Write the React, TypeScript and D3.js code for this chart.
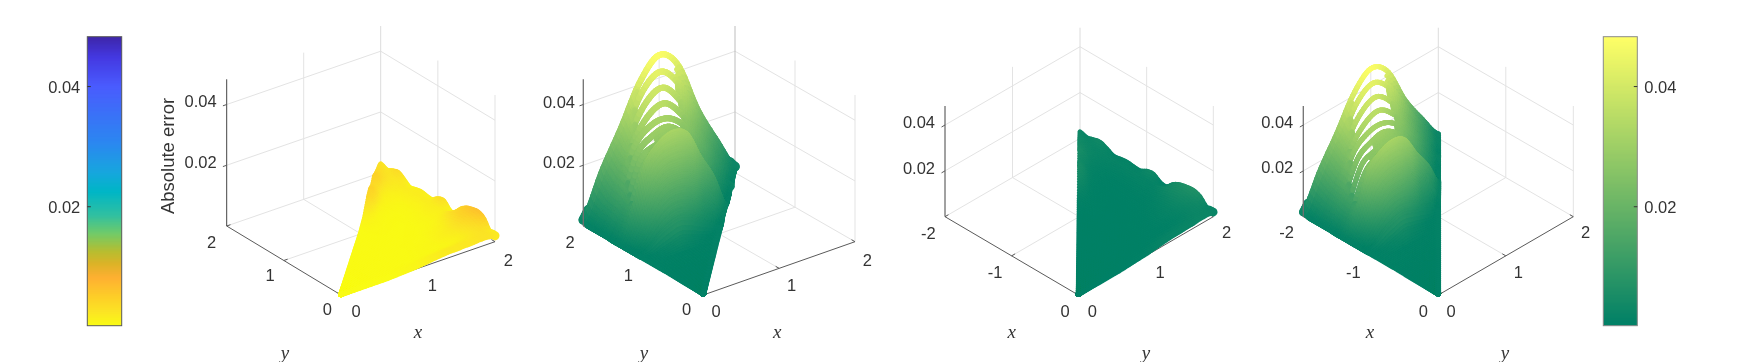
import React from "react";
import * as d3 from "d3";

const W = 1743, H = 362;
const zTicks = [0.02, 0.04];
const zMax = 0.0483, zMin = 0.0002;
const summerStops = ["#008066", "#ffff66"];
const parulaValues = [0.0002, 0.0025, 0.0048, 0.0082, 0.0105, 0.0125, 0.0155, 0.0185, 0.0225, 0.0258, 0.0305, 0.04, 0.045, 0.0483];
const parulaColors = ["#f9fb15", "#fbe425", "#fdd028", "#feb032", "#dcb328", "#b8bd30", "#72cb68", "#32c0a0", "#00b6c6", "#18a6de", "#2b88f0", "#4a5cfe", "#4438e0", "#3e26a8"];

// error along the far edge and interior of the strong method: rows at radial fraction
const ridgeRowS = [1, 0.96, 0.92, 0.88, 0.84, 0.8, 0.76, 0.72, 0.68, 0.64, 0.6, 0.56, 0.52, 0.48, 0.4, 0.3, 0.15, 0];
const ridgeZ = [
  [0.002, 0.016, 0.028, 0.041, 0.0475, 0.042, 0.0255, 0.013, 0.002],
  [0.001, 0.014, 0.027, 0.039, 0.0433, 0.037, 0.024, 0.012, 0.002],
  [0.001, 0.013, 0.026, 0.036, 0.0393, 0.033, 0.022, 0.011, 0.002],
  [0.001, 0.012, 0.025, 0.033, 0.0354, 0.03, 0.021, 0.0105, 0.001],
  [0.001, 0.012, 0.026, 0.031, 0.0317, 0.028, 0.02, 0.0095, 0.002],
  [0.001, 0.012, 0.025, 0.029, 0.0302, 0.026, 0.018, 0.0085, 0.001],
  [0.0008, 0.011, 0.024, 0.027, 0.028, 0.025, 0.016, 0.007, 0.001],
  [0.0008, 0.011, 0.023, 0.026, 0.027, 0.024, 0.016, 0.007, 0.001],
  [0.0008, 0.012, 0.025, 0.03, 0.032, 0.03, 0.021, 0.013, 0.002],
  [0.0008, 0.009, 0.02, 0.025, 0.026, 0.025, 0.017, 0.01, 0.002],
  [0.0008, 0.006, 0.014, 0.019, 0.02, 0.019, 0.012, 0.008, 0.002],
  [0.0008, 0.004, 0.009, 0.013, 0.014, 0.013, 0.008, 0.005, 0.001],
  [0.0008, 0.002, 0.005, 0.007, 0.008, 0.007, 0.005, 0.003, 0.001],
  [0.0008, 0.001, 0.002, 0.003, 0.004, 0.003, 0.002, 0.001, 0.001],
  [0.0008, 0.001, 0.001, 0.001, 0.001, 0.001, 0.001, 0.001, 0.001],
  [0.0008, 0.0008, 0.0008, 0.0008, 0.0008, 0.0008, 0.0008, 0.0008, 0.0008],
  [0.0006, 0.0006, 0.0006, 0.0006, 0.0006, 0.0006, 0.0006, 0.0006, 0.0006],
  [0.0005, 0.0005, 0.0005, 0.0005, 0.0005, 0.0005, 0.0005, 0.0005, 0.0005],
];
// white gaps between adjacent ridge rows, as [start, end] fractions along a row
const ridgeGaps = [[0.35, 0.62], [0.32, 0.61], [0.3, 0.63], [0.255, 0.645], [0.217, 0.64], [0.17, 0.4], [0.15, 0.33], [0.14, 0.27]];

// error of the weak method: scalloped far edge
const scallopRowS = [1, 0.95, 0.9, 0.85, 0.8, 0.75, 0.7, 0.6, 0.5, 0.3, 0];
const scallopZ = [
  [0.0028, 0.002, 0.0028, 0.0034, 0.0022, 0.0008, 0.0012, 0.0016, 0.0013, 0.0012, 0.0027, 0.0031, 0.0012, 0.001, 0.0038, 0.0053, 0.006, 0.0063, 0.0052, 0.0022, 0.002],
  [0.0032, 0.0024, 0.002, 0.0016, 0.0016, 0.0016, 0.0016, 0.0036, 0.0046, 0.0032, 0.0025],
  [0.0038, 0.0024, 0.0014, 0.0012, 0.001, 0.0012, 0.0012, 0.0022, 0.003, 0.0022, 0.0025],
  [0.0048, 0.0018, 0.001, 0.0007, 0.0007, 0.0008, 0.0008, 0.0014, 0.0019, 0.0015, 0.0022],
  [0.0038, 0.0014, 0.0008, 0.0005, 0.0005, 0.0006, 0.0006, 0.001, 0.0014, 0.001, 0.0022],
  [0.0046, 0.0014, 0.0006, 0.0004, 0.0004, 0.0004, 0.0005, 0.0008, 0.001, 0.0008, 0.002],
  [0.004, 0.0012, 0.0005, 0.0004, 0.0003, 0.0004, 0.0004, 0.0005, 0.0007, 0.0007, 0.002],
  [0.0012, 0.0008, 0.0005, 0.0004, 0.0003, 0.0003, 0.0004, 0.0004, 0.0005, 0.0006, 0.0015],
  [0.0003, 0.0003, 0.0003, 0.0003, 0.0003, 0.0003, 0.0003, 0.0003, 0.0003, 0.0004, 0.0008],
  [0.0003, 0.0003, 0.0003, 0.0003, 0.0003, 0.0003, 0.0003, 0.0003, 0.0003, 0.0003, 0.0002],
  [0.0002, 0.0002, 0.0002, 0.0002, 0.0002, 0.0002, 0.0002, 0.0002, 0.0002, 0.0002, 0.0002],
];

type Pt = [number, number];
const PANELS = [
  { O: [341, 295], Xc: [495, 241.7], Yc: [226.7, 226], zTop: 146.7, xFar: 2, zAt: "y", backC: "#dcdcdc",
    A: [2, 2], B: [2, 0], table: "scallop", cmap: "parula", rw: 5.5, sw: 5.5, blobEnd: true, blobStart: false,
    xLabs: [["0", 356, 311], ["1", 432.3, 284.5], ["2", 508.3, 259.5]],
    yLabs: [["0", 327.3, 308.5], ["1", 270, 275], ["2", 211.7, 241.7]],
    zLabX: 216.7, zLabY: [161.7, 101], xT: [418, 331], yT: [285, 352.5] },
  { O: [703.3, 295], Xc: [855, 241.7], Yc: [583.3, 226], zTop: 146.7, xFar: 2, zAt: "y", backC: "#bdbdbd",
    A: [0, 2], B: [2, 2], table: "ridge", cmap: "summer", rw: 6, sw: 6, blobEnd: true, blobStart: true,
    xLabs: [["0", 716, 311], ["1", 791.7, 284.5], ["2", 867.3, 259.5]],
    yLabs: [["0", 686.7, 308.5], ["1", 628.3, 275], ["2", 570, 241.7]],
    zLabX: 575, zLabY: [162, 102], xT: [777.3, 331], yT: [644, 352.5] },
  { O: [1078.3, 295], Xc: [945, 216.7], Yc: [1213.3, 216.7], zTop: 110.7, xFar: -2, zAt: "x", backC: "#dcdcdc",
    A: [-2, 2], B: [0, 2], table: "scallop", cmap: "summer", rw: 5, sw: 5, blobEnd: true, blobStart: false,
    xLabs: [["0", 1065, 311], ["-1", 995, 272.3], ["-2", 928.3, 233.3]],
    yLabs: [["0", 1092.3, 311], ["1", 1160, 271.7], ["2", 1226.7, 232.3]],
    zLabX: 935, zLabY: [168, 121.7], xT: [1011.7, 331], yT: [1146, 352.5] },
  { O: [1438.3, 295], Xc: [1303.3, 216.7], Yc: [1573.3, 216.7], zTop: 110.7, xFar: -2, zAt: "x", backC: "#dcdcdc",
    A: [-2, 0], B: [-2, 2], table: "ridge", cmap: "summer", rw: 5, sw: 5.5, blobEnd: false, blobStart: true,
    xLabs: [["0", 1423.3, 311], ["-1", 1353.3, 271.7], ["-2", 1286.7, 231.7]],
    yLabs: [["0", 1451, 311], ["1", 1518.3, 271.7], ["2", 1585.7, 231.7]],
    zLabX: 1293.3, zLabY: [167, 121.7], xT: [1370, 331], yT: [1505, 352.5] },
];

const summer = d3.scaleLinear<string>().domain([zMin, zMax]).range(summerStops).clamp(true);
const parula = d3.scaleLinear<string>().domain(parulaValues).range(parulaColors).clamp(true);

function rowAt(row: number[], t: number) {
  const n = row.length - 1;
  const p = Math.min(Math.max(t, 0), 1) * n;
  const i = Math.min(Math.floor(p), n - 1);
  const u = p - i;
  const a = row[Math.max(i - 1, 0)], b = row[i], c = row[i + 1], d = row[Math.min(i + 2, n)];
  const v = 0.5 * (2 * b + (c - a) * u + (2 * a - 5 * b + 4 * c - d) * u * u + (3 * b - a - 3 * c + d) * u * u * u);
  return Math.max(v, 0);
}
function surfaceAt(rowsS: number[], table: number[][], s: number, t: number) {
  let i = 0;
  while (i < rowsS.length - 2 && s < rowsS[i + 1]) i++;
  const f = (rowsS[i] - s) / (rowsS[i] - rowsS[i + 1]);
  return rowAt(table[i], t) * (1 - f) + rowAt(table[i + 1], t) * f;
}
function inGap(s: number, t: number) {
  for (let k = 0; k < ridgeGaps.length; k++) {
    const hi = ridgeRowS[k], lo = ridgeRowS[k + 1];
    const margin = 0.002;
    if (s < hi - margin && s > lo + margin) return t > ridgeGaps[k][0] && t < ridgeGaps[k][1];
  }
  return false;
}

function Panel({ p }: { p: any }) {
  const xF = d3.scaleLinear().domain([0, p.xFar]).range([0, 1]);
  const yF = d3.scaleLinear().domain([0, 2]).range([0, 1]);
  const zS = d3.scaleLinear().domain([0, zMax]).range([0, p.zTop]);
  const P = (x: number, y: number, z = 0): Pt => [
    p.O[0] + xF(x) * (p.Xc[0] - p.O[0]) + yF(y) * (p.Yc[0] - p.O[0]),
    p.O[1] + xF(x) * (p.Xc[1] - p.O[1]) + yF(y) * (p.Yc[1] - p.O[1]) - zS(z),
  ];
  const seg = (a: Pt, b: Pt, stroke: string, w = 1, k?: any) => (
    <line key={k} x1={a[0]} y1={a[1]} x2={b[0]} y2={b[1]} stroke={stroke} strokeWidth={w} />
  );
  const far = p.xFar, mid = p.xFar / 2;
  const gridC = "#e3e3e3";
  const grid: any[] = [];
  zTicks.forEach((z, i) => {
    grid.push(seg(P(far, 0, z), P(far, 2, z), gridC, 1, "a" + i));
    grid.push(seg(P(0, 2, z), P(far, 2, z), gridC, 1, "b" + i));
  });
  [[far, 2], [mid, 2], [far, 1], p.zAt === "y" ? [far, 0] : [0, 2]].forEach((c, i) => {
    grid.push(seg(P(c[0], c[1]), P(c[0], c[1], zMax), i === 0 ? p.backC : gridC, 1, "v" + i));
  });
  grid.push(seg(P(0, 2), P(far, 2), gridC, 1, "f1"));
  grid.push(seg(P(far, 0), P(far, 2), gridC, 1, "f2"));
  grid.push(seg(P(mid, 0), P(mid, 2), gridC, 1, "f3"));
  grid.push(seg(P(0, 1), P(far, 1), gridC, 1, "f4"));

  // surface: painted far to near
  const isRidge = p.table === "ridge";
  const rowsS = isRidge ? ridgeRowS : scallopRowS;
  const table = isRidge ? ridgeZ : scallopZ;
  const color = p.cmap === "parula" ? parula : summer;
  const coarse = d3.range(0, 81).map((i) => 1 - i / 80);
  const fine = d3.range(0, 111).map((i) => 0.96 - i / 250);
  const sVals = isRidge ? d3.merge<number>([coarse, fine, ridgeRowS.slice(0, 9)]).sort((a, b) => b - a) : coarse;
  const tVals = d3.range(0, 61).map((i) => i / 60);
  const marks: any[] = [];
  const project = (s: number, t: number) => {
    const z = surfaceAt(rowsS, table, s, t);
    const x = s * (p.A[0] + t * (p.B[0] - p.A[0]));
    const y = s * (p.A[1] + t * (p.B[1] - p.A[1]));
    return { pt: P(x, y, z), z };
  };
  const drawRow = (s: number, w: number, useGap: boolean, blobS: boolean, blobE: boolean) => {
    tVals.slice(1).forEach((t, j) => {
      const t0 = tVals[j];
      if (useGap && inGap(s, (t0 + t) / 2)) return;
      const a = project(s, t0), b = project(s, t);
      const end = (blobE && t > 0.97) || (blobS && t0 < 0.03);
      marks.push(
        <line key={marks.length} x1={a.pt[0]} y1={a.pt[1]} x2={b.pt[0]} y2={b.pt[1]}
          stroke={color((a.z + b.z) / 2)} strokeWidth={end ? w + 3.5 : w} strokeLinecap="round" />
      );
    });
  };
  if (isRidge) {
    const ribbonS = ridgeRowS.slice(0, 9);
    sVals.forEach((s) => {
      const isRib = ribbonS.some((r) => Math.abs(r - s) < 1e-6);
      const blobS = isRib && s === 1 && p.blobStart;
      const blobE = isRib && (s === 1 || s === 0.84) && p.blobEnd;
      drawRow(s, isRib ? p.rw : p.sw, !isRib && s > 0.68, blobS, blobE);
    });
  } else {
    sVals.forEach((s) => drawRow(s, p.sw, false, false, s === 1 && p.blobEnd));
  }

  const axisC = "#5a5a5a";
  const zBase: Pt = p.zAt === "y" ? [0, 2] : [far, 0];
  const tick = (a: Pt, dirFrom: Pt, dirTo: Pt, len: number, k: string) => {
    const dx = dirTo[0] - dirFrom[0], dy = dirTo[1] - dirFrom[1], L = Math.hypot(dx, dy);
    return <line key={k} x1={a[0]} y1={a[1]} x2={a[0] + (dx / L) * len} y2={a[1] + (dy / L) * len} stroke={axisC} strokeWidth={1} />;
  };
  const xUnit: Pt[] = [P(0, 0), P(far, 0)], yUnit: Pt[] = [P(0, 0), P(0, 2)];
  const zTickDir = p.zAt === "y" ? [xUnit[1], xUnit[0]] : [yUnit[1], yUnit[0]];
  const txt = (s: string, x: number, y: number, k: string) => (
    <text key={k} x={x} y={y} textAnchor="middle" dominantBaseline="central" fontFamily="Liberation Sans" fontSize={16.5} fill="#333">{s}</text>
  );
  return (
    <g>
      {grid}
      {seg(P(0, 0), P(far, 0), axisC, 1, "xa")}
      {seg(P(0, 0), P(0, 2), axisC, 1, "ya")}
      {[0, mid, far].map((v, i) => <g key={"xt" + i}>{tick(P(v, 0), yUnit[0], yUnit[1], 4, "xt")}</g>)}
      {[0, 1, 2].map((v, i) => <g key={"yt" + i}>{tick(P(0, v), xUnit[0], xUnit[1], 4, "yt")}</g>)}
      {marks}
      {seg(P(zBase[0], zBase[1]), P(zBase[0], zBase[1], zMax), isRidge ? "#707070" : "#444", isRidge ? 1.3 : 1, "za")}
      {zTicks.map((z, i) => <g key={"zt" + i}>{tick(P(zBase[0], zBase[1], z), zTickDir[0], zTickDir[1], 4, "zt")}</g>)}
      {zTicks.map((z, i) => (
        <text key={"zl" + i} x={p.zLabX} y={p.zLabY[i]} textAnchor="end" dominantBaseline="central" fontFamily="Liberation Sans" fontSize={16.5} fill="#333">{z.toFixed(2)}</text>
      ))}
      {p.xLabs.map((l: any, i: number) => txt(l[0], l[1], l[2], "xl" + i))}
      {p.yLabs.map((l: any, i: number) => txt(l[0], l[1], l[2], "yl" + i))}
      <text x={p.xT[0]} y={p.xT[1]} textAnchor="middle" dominantBaseline="central" fontFamily="Liberation Serif" fontStyle="italic" fontSize={19} fill="#333">x</text>
      <text x={p.yT[0]} y={p.yT[1]} textAnchor="middle" dominantBaseline="central" fontFamily="Liberation Serif" fontStyle="italic" fontSize={19} fill="#333">y</text>
    </g>
  );
}

function ColorBar({ x, w, scale, side, border }: { x: number; w: number; scale: any; side: string; border: string }) {
  const top = 36.7, bottom = 325.7;
  const y = d3.scaleLinear().domain([zMin, zMax]).range([bottom, top]);
  const rows = d3.range(top, bottom, 1);
  return (
    <g>
      {rows.map((r) => <rect key={r} x={x} y={r} width={w} height={Math.min(1.5, bottom - r)} fill={scale(y.invert(r + 0.5))} />)}
      <rect x={x} y={top} width={w} height={bottom - top} fill="none" stroke={border} strokeWidth={1} />
      {zTicks.map((z) => (
        <g key={z}>
          <line x1={side === "left" ? x : x + w} x2={side === "left" ? x + 3.5 : x + w - 3.5} y1={y(z)} y2={y(z)} stroke="#333" />
          <text x={side === "left" ? x - 7 : x + w + 7} y={y(z)} textAnchor={side === "left" ? "end" : "start"} dominantBaseline="central"
            fontFamily="Liberation Sans" fontSize={16.5} fill="#333">{z.toFixed(2)}</text>
        </g>
      ))}
    </g>
  );
}

export default function App() {
  return (
    <svg width={W} height={H} viewBox={`0 0 ${W} ${H}`} style={{ position: "absolute", left: 0, top: 0, filter: "blur(0.5px)" }}>
      <rect width={W} height={H} fill="#fff" />
      <ColorBar x={87.3} w={34.4} scale={parula} side="left" border="#5a5a5a" />
      <ColorBar x={1603.3} w={34} scale={summer} side="right" border="#8a8a8a" />
      {PANELS.map((p, i) => <Panel key={i} p={p} />)}
      <text transform="translate(167,156) rotate(-90)" textAnchor="middle" dominantBaseline="central" fontFamily="Liberation Sans" fontSize={18.5} fill="#333">Absolute error</text>
    </svg>
  );
}
